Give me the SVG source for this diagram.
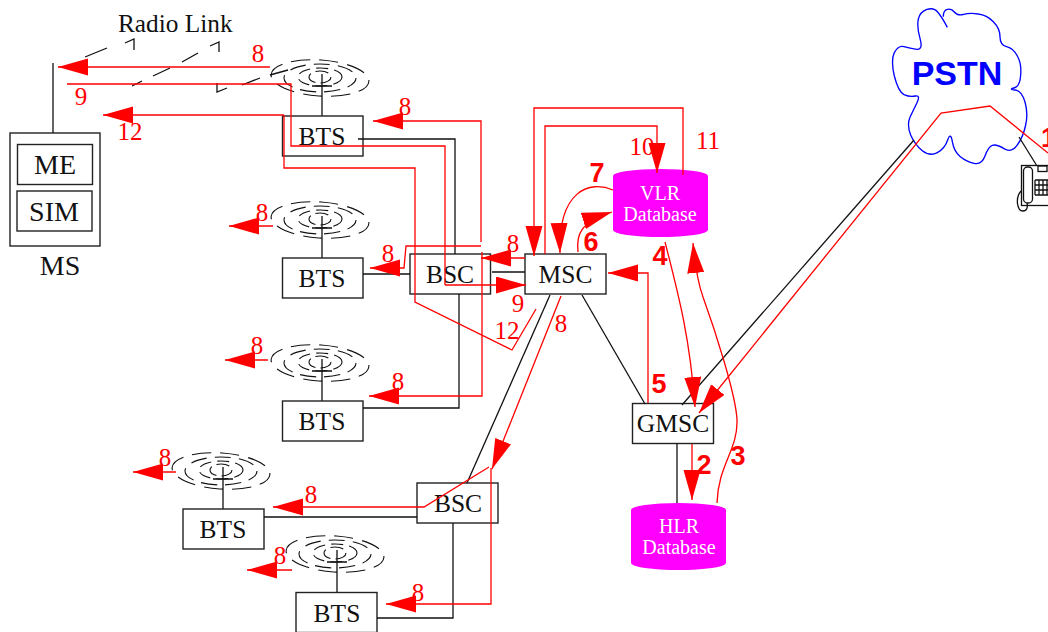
<svg xmlns="http://www.w3.org/2000/svg" xmlns:xlink="http://www.w3.org/1999/xlink" width="1048" height="632" viewBox="0 0 1048 632">
<style>
text{font-family:"Liberation Serif","Times New Roman",serif}
.box{fill:none;stroke:#222;stroke-width:1.4}
.lbl{font-size:25.500px;fill:#111;text-anchor:middle}
.lg{font-size:28px;fill:#111;text-anchor:middle}
.db{fill:#f0f;stroke:none}
.dbt{font-size:20px;fill:#fff;text-anchor:middle}
.k{fill:none;stroke:#111;stroke-width:1.3}
.r{fill:none;stroke:#f00;stroke-width:1.3}
.ra{fill:none;stroke:#f00;stroke-width:1.3;marker-end:url(#ah)}
.n{font-size:25px;fill:#f00;text-anchor:middle}
.b{font-family:"Liberation Sans",Arial,sans-serif;font-weight:bold;font-size:27px;fill:#f00;text-anchor:middle}
.ring{fill:none;stroke:#111;stroke-width:1.1}
</style>
<defs>
<marker id="ah" markerUnits="userSpaceOnUse" markerWidth="31" markerHeight="18" refX="30" refY="8.5" orient="auto"><path d="M30,8.5 L0,0 L0,17 Z" fill="#f00"/></marker>
<g id="ant">
<ellipse class="ring" cx="0" cy="0" rx="49" ry="18" stroke-dasharray="19 9" stroke-dashoffset="4" transform="rotate(4)"/>
<ellipse class="ring" cx="0" cy="0" rx="36" ry="14" stroke-dasharray="16 8" stroke-dashoffset="3"/>
<ellipse class="ring" cx="0" cy="-1" rx="22" ry="9" stroke-dasharray="12 6"/>
<ellipse class="ring" cx="0" cy="-1" rx="11" ry="6" stroke-dasharray="13 5"/>
<path class="k" d="M2,-4 V38 M-8,8 H12"/>
</g>
</defs>
<g id="ms">
<rect class="box" x="10" y="133" width="90" height="113"/>
<path class="k" d="M53,63 V133"/>
<text class="lg" x="60" y="275">MS</text>
</g>
<g id="me"><rect class="box" x="17.500" y="144.500" width="75" height="40"/><text class="lg" x="55" y="174">ME</text></g>
<g id="sim"><rect class="box" x="17" y="191" width="75" height="40"/><text class="lg" x="54" y="221">SIM</text></g>
<g id="radio-link">
<text x="118" y="32" font-size="25.300" fill="#111">Radio Link</text>
<path class="k" d="M85,57 L107,48 M125,43 L134,39 V50 M132,86 L142,81 M153,76 L170,68 M182,62 L198,53 M210,46 L219,42 V52 M217,83 V92 L227,88 M242,85 L260,78 M270,75 L288,70"/>
</g>
<g id="ant1"><use xlink:href="#ant" href="#ant" x="320" y="78"/></g>
<g id="ant2"><use xlink:href="#ant" href="#ant" x="320" y="220"/></g>
<g id="ant3"><use xlink:href="#ant" href="#ant" x="320" y="363"/></g>
<g id="ant4"><use xlink:href="#ant" href="#ant" x="221" y="471"/></g>
<g id="ant5"><use xlink:href="#ant" href="#ant" x="335" y="554"/></g>
<g id="bts1"><rect class="box" x="282.500" y="116" width="80.500" height="40"/><text class="lbl" x="322" y="145">BTS</text></g>
<g id="bts2"><rect class="box" x="282.500" y="258" width="80.500" height="40"/><text class="lbl" x="322" y="287">BTS</text></g>
<g id="bts3"><rect class="box" x="282.500" y="401" width="80.500" height="40"/><text class="lbl" x="322" y="430">BTS</text></g>
<g id="bts4"><rect class="box" x="183" y="509" width="81" height="40"/><text class="lbl" x="223" y="538">BTS</text></g>
<g id="bts5"><rect class="box" x="296" y="592.500" width="81" height="40"/><text class="lbl" x="337" y="622">BTS</text></g>
<g id="bsc1"><rect class="box" x="410" y="254" width="80.500" height="40"/><text class="lbl" x="450" y="283">BSC</text></g>
<g id="msc"><rect class="box" x="525" y="254" width="81" height="40"/><text class="lbl" x="565.500" y="283">MSC</text></g>
<g id="bsc2"><rect class="box" x="417" y="483" width="81" height="40"/><text class="lbl" x="458" y="512">BSC</text></g>
<g id="gmsc"><rect class="box" x="632.500" y="403.500" width="81" height="40"/><text class="lbl" x="673" y="432">GMSC</text></g>
<g id="vlr">
<path class="db" d="M613,176 A47.500,7 0 0 1 708,176 V230 A47.500,7 0 0 1 613,230 Z"/>
<text class="dbt" x="660" y="200">VLR</text><text class="dbt" x="660" y="221">Database</text>
</g>
<g id="hlr">
<path class="db" d="M631,510 A47.500,7 0 0 1 726,510 V563 A47.500,7 0 0 1 631,563 Z"/>
<text class="dbt" x="679" y="533">HLR</text><text class="dbt" x="679" y="554">Database</text>
</g>
<g id="pstn">
<path transform="translate(860 0) scale(.33333)" fill="none" stroke="#00f" stroke-width="4" d="M262,82 Q245,50 233,36 Q222,22 201,28 Q180,35 175,57 Q170,80 180,115 Q190,150 170,148 Q150,145 132,140 Q115,135 103,158 Q92,180 103,228 Q115,275 132,284 Q150,292 166,288 Q182,285 171,308 Q160,330 150,352 Q140,375 152,405 Q165,435 187,452 Q210,470 232,458 Q255,445 263,420 Q272,395 277,425 Q282,455 301,470 Q320,485 342,490 Q365,495 375,468 Q385,440 397,436 Q410,432 432,446 Q455,460 472,435 Q490,410 497,375 Q505,340 495,306 Q485,272 465,270 Q445,268 462,264 Q480,260 482,225 Q485,190 472,168 Q460,145 440,140 Q420,135 420,110 Q420,85 400,65 Q380,45 355,42 Q330,38 311,43 Q292,48 283,36 Q275,25 262,28 Q250,30 250,50"/>
<text x="957" y="85" text-anchor="middle" font-size="34" font-weight="bold" fill="#00f" style="font-family:'Liberation Sans',Arial,sans-serif">PSTN</text>
</g>
<g id="phone">
<rect class="k" x="1021.500" y="165.500" width="30" height="40"/>
<rect class="k" x="1023.500" y="167" width="9" height="36" rx="4"/>
<rect class="k" x="1038" y="166" width="9" height="5.500"/>
<path class="k" d="M1035,180 H1048 M1035,185 H1048 M1035,190 H1048 M1035,195 H1048 M1035,180 V195 M1039,180 V195 M1043,180 V195 M1047,180 V195"/>
<path class="k" d="M1021,191 C1015,198 1017,211 1023,211 C1027,211 1028,207 1027,203"/>
</g>
<g id="connectors">
<path class="k" d="M358,139 H455 V254"/>
<path class="k" d="M363,274 H410"/>
<path class="k" d="M492,272 H525"/>
<path class="k" d="M459,294 V408 H363"/>
<path class="k" d="M550,295 L467,483"/>
<path class="k" d="M264,517 H417"/>
<path class="k" d="M453,523 V618 H377"/>
<path class="k" d="M582,295 L645,404"/>
<path class="k" d="M682,405 L914,140"/>
<path class="k" d="M677,443 V503"/>
<path class="k" d="M1019,137 L1037,166"/>
<path class="ra" d="M270,67 H58"/>
<path class="r" d="M67,84 H291 V146 H445 V285"/>
<path class="ra" d="M445,285 H526"/>
<path class="ra" d="M284,115 H103"/>
<path class="r" d="M284,115 V168 H415 V302 L512,350 L536,309"/>
<path class="ra" d="M481,242 V121 H373"/>
<path class="ra" d="M481,246 H406 L404,268 H370"/>
<path class="ra" d="M482,252 V396 H369"/>
<path class="ra" d="M525,258 H481"/>
<path class="ra" d="M561,296 L492,469"/>
<path class="ra" d="M489,467 L424,507 H273"/>
<path class="ra" d="M491,468 V604 H386"/>
<path class="ra" d="M273,226 H229"/>
<path class="ra" d="M268,360 H225"/>
<path class="ra" d="M176,472 H133"/>
<path class="ra" d="M292,570 H247"/>
<path class="ra" d="M683,175 V108 H534 V256"/>
<path class="ra" d="M545,254 V126 H657 V173"/>
<path class="ra" d="M613,190 C590,180 558,190 560,253"/>
<path class="ra" d="M578,252 C576,235 580,222 612,212"/>
<path class="ra" d="M665,242 C680,300 690,340 695,407"/>
<path class="ra" d="M717,503 C718,465 738,450 737,420 C736,395 715,330 703,297 C698,283 695,265 693,243"/>
<path class="ra" d="M1048,153 L990,106 L941,113 L699,413"/>
<path class="ra" d="M648,403 V273 H608"/>
<path class="ra" d="M692,444 V500"/>
</g>
<g id="labels">
<text class="n" x="258" y="62">8</text>
<text class="n" x="81" y="105">9</text>
<text class="n" x="130" y="140">12</text>
<text class="n" x="405" y="115">8</text>
<text class="n" x="388" y="262">8</text>
<text class="n" x="513" y="252">8</text>
<text class="n" x="518" y="312">9</text>
<text class="n" x="507" y="339">12</text>
<text class="n" x="561" y="332">8</text>
<text class="n" x="642" y="155">10</text>
<text class="n" x="708" y="149">11</text>
<text class="n" x="262" y="221">8</text>
<text class="n" x="257" y="354">8</text>
<text class="n" x="398" y="390">8</text>
<text class="n" x="165" y="466">8</text>
<text class="n" x="311" y="503">8</text>
<text class="n" x="280" y="564">8</text>
<text class="n" x="418" y="601">8</text>
<text class="b" x="597" y="182">7</text>
<text class="b" x="591" y="251">6</text>
<text class="b" x="660" y="265">4</text>
<text class="b" x="659" y="393">5</text>
<text class="b" x="704" y="474">2</text>
<text class="b" x="738" y="465">3</text>
<text class="b" x="1041" y="147" style="text-anchor:start">1</text>
</g>
</svg>
